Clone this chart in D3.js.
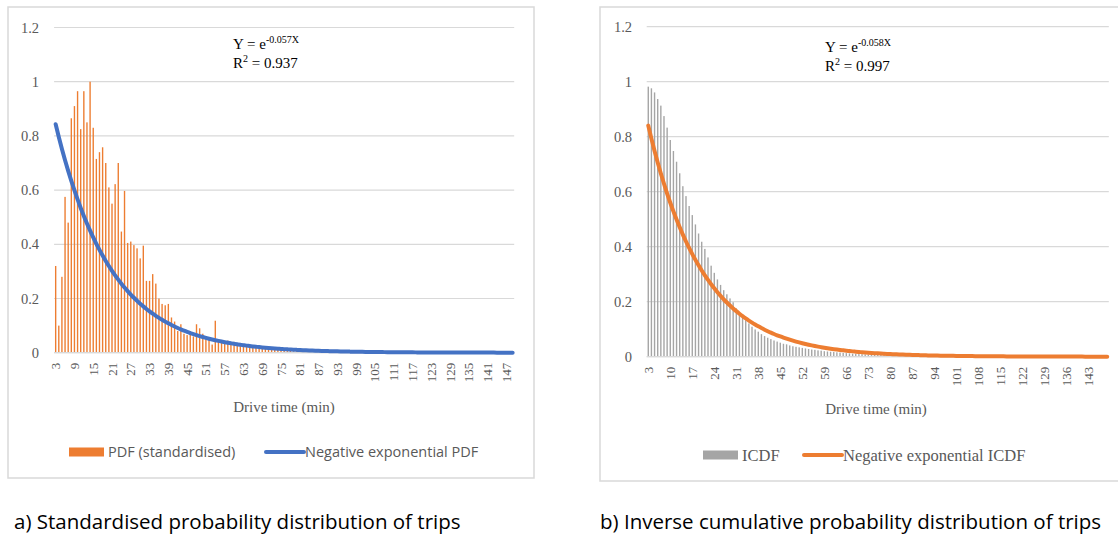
<!DOCTYPE html>
<html>
<head>
<meta charset="utf-8">
<script src="https://cdn.jsdelivr.net/npm/d3@7"></script>
<style>
  html, body { margin: 0; padding: 0; background: #ffffff; }
  svg { display: block; }
</style>
</head>
<body>
<svg id="chart" width="1118" height="536"></svg>
<script>
// Drive time categories (minutes) shared by both panels
const driveTimes = d3.range(3, 150);

// a) Standardised PDF of trips, one value per minute (3..149)
const pdfValues = [
  0.32, 0.10, 0.28, 0.575, 0.48, 0.865, 0.91, 0.965, 0.825, 0.965,
  0.85, 1.0, 0.83, 0.715, 0.74, 0.758, 0.70, 0.61, 0.55, 0.622,
  0.70, 0.447, 0.597, 0.405, 0.41, 0.397, 0.385, 0.348, 0.395, 0.265,
  0.265, 0.29, 0.255, 0.20, 0.18, 0.175, 0.18, 0.13, 0.115, 0.08,
  0.105, 0.07, 0.065, 0.08, 0.06, 0.105, 0.09, 0.07, 0.06, 0.055,
  0.03, 0.118, 0.05, 0.045, 0.04, 0.045, 0.035, 0.04, 0.03, 0.032,
  0.025, 0.028, 0.022, 0.024, 0.018, 0.02, 0.015, 0.017, 0.012, 0.014,
  0.01, 0.012, 0.008, 0.009, 0.006, 0.007, 0.005, 0.006, 0.004, 0.005,
  0.003, 0.004, 0.003, 0.003, 0.002, 0.003, 0.002, 0.002,
  0.002, 0.001, 0.002, 0.001, 0.001, 0.002, 0.001, 0.001, 0.001, 0.001,
  0.001, 0.001, 0.0005, 0.001, 0.0005, 0.001, 0.0005, 0.0005, 0.001, 0.0005,
  0.0005, 0.0005, 0.0005, 0.001, 0.0005, 0, 0.0005, 0.0005, 0, 0.0005,
  0, 0.0005, 0, 0, 0.0005, 0, 0, 0.0005, 0, 0,
  0, 0.0005, 0, 0, 0, 0, 0.0005, 0, 0, 0,
  0, 0, 0, 0, 0, 0, 0, 0, 0
];

// b) Inverse cumulative distribution of trips (3..149)
const icdfValues = [
  0.982, 0.976, 0.961, 0.937, 0.913, 0.875, 0.833, 0.788, 0.748, 0.709,
  0.667, 0.62, 0.584, 0.548, 0.515, 0.481, 0.448, 0.418, 0.392, 0.361,
  0.331, 0.305, 0.281, 0.261, 0.242, 0.227, 0.212, 0.198, 0.176, 0.16,
  0.145, 0.133, 0.121, 0.109, 0.099, 0.091, 0.082, 0.075, 0.069, 0.064,
  0.059, 0.055, 0.051, 0.047, 0.045, 0.041,
  0.038, 0.036, 0.034, 0.032, 0.030, 0.028, 0.026, 0.025, 0.023, 0.022,
  0.020, 0.019, 0.018, 0.017, 0.016, 0.015, 0.014, 0.013, 0.012, 0.011,
  0.010, 0.0095, 0.009, 0.0085, 0.008, 0.0075, 0.007, 0.0065, 0.006, 0.0055,
  0.005, 0.0048, 0.0045, 0.0042, 0.004, 0.0037, 0.0035, 0.0033, 0.003, 0.0028,
  0.0026, 0.0025, 0.0023, 0.0022, 0.002, 0.0019, 0.0018, 0.0017, 0.0016, 0.0015,
  0.0014, 0.0013, 0.0012, 0.0012, 0.0011, 0.001, 0.001, 0.0009, 0.0009, 0.0008,
  0.0008, 0.0007, 0.0007, 0.0006, 0.0006, 0.0006, 0.0005, 0.0005, 0.0005, 0.0004,
  0.0004, 0.0004, 0.0004, 0.0003, 0.0003, 0.0003, 0.0003, 0.0003, 0.0002, 0.0002,
  0.0002, 0.0002, 0.0002, 0.0002, 0.0002, 0.0001, 0.0001, 0.0001, 0.0001, 0.0001,
  0.0001, 0.0001, 0.0001, 0.0001, 0.0001, 0.0001, 0.0001, 0.0001, 0.0001, 0.0001, 0
];

// Fitted decay rates printed in each panel (Y = e^(rate * X))
const pdfRate = -0.057;
const icdfRate = -0.058;
const pdfR2 = "0.937";
const icdfR2 = "0.997";

const yTicks = [0, 0.2, 0.4, 0.6, 0.8, 1, 1.2];

const svg = d3.select("#chart");
const tickFont = "'Liberation Serif', 'Times New Roman', serif";
const sansFont = "'Open Sans', 'Noto Sans', sans-serif";
const textGrey = "#595959";

function panel(opt) {
  const g = svg.append("g");

  // chart frame
  g.append("rect")
    .attr("x", opt.frame[0]).attr("y", opt.frame[1])
    .attr("width", opt.frame[2]).attr("height", opt.frame[3])
    .attr("fill", "#fff").attr("stroke", "#d9d9d9").attr("stroke-width", 1.5);

  const x = d3.scaleBand()
    .domain(driveTimes)
    .range(opt.xRange)
    .paddingInner(0.56)
    .paddingOuter(0.28);

  const y = d3.scaleLinear().domain([0, 1.2]).range(opt.yRange);

  // horizontal gridlines
  g.append("g").selectAll("line").data(yTicks).join("line")
    .attr("x1", opt.xRange[0]).attr("x2", opt.xRange[1])
    .attr("y1", d => y(d)).attr("y2", d => y(d))
    .attr("stroke", "#d9d9d9").attr("stroke-width", 1.2);

  // y axis labels
  const yAxis = d3.axisLeft(y).tickValues(yTicks).tickSize(0).tickPadding(0)
    .tickFormat(d3.format("~g"));
  g.append("g")
    .attr("transform", `translate(${opt.yLabelX},0)`)
    .call(yAxis)
    .call(s => s.select(".domain").remove())
    .call(s => s.selectAll("text")
      .attr("font-family", tickFont).attr("font-size", 14.5).attr("fill", textGrey));

  // bars
  g.append("g").selectAll("rect").data(opt.values).join("rect")
    .attr("x", (d, i) => x(driveTimes[i]))
    .attr("width", x.bandwidth())
    .attr("y", d => y(d))
    .attr("height", d => y(0) - y(d))
    .attr("fill", opt.barColor);

  // baseline
  g.append("line")
    .attr("x1", opt.xRange[0]).attr("x2", opt.xRange[1])
    .attr("y1", y(0)).attr("y2", y(0))
    .attr("stroke", "#d9d9d9").attr("stroke-width", 1.2);

  // fitted negative exponential curve
  const line = d3.line()
    .x(d => x(d) + x.bandwidth() / 2)
    .y(d => y(Math.exp(opt.rate * d)))
    .curve(d3.curveMonotoneX);
  g.append("path").datum(driveTimes)
    .attr("d", line)
    .attr("fill", "none")
    .attr("stroke", opt.lineColor)
    .attr("stroke-width", 4)
    .attr("stroke-linecap", "round");

  // x axis labels (rotated)
  const xAxis = d3.axisBottom(x)
    .tickValues(driveTimes.filter((d, i) => i % opt.labelStep === 0))
    .tickSize(0).tickPadding(0);
  g.append("g")
    .attr("transform", `translate(0,${y(0) + 10})`)
    .call(xAxis)
    .call(s => s.select(".domain").remove())
    .call(s => s.selectAll("text")
      .attr("font-family", tickFont).attr("font-size", 13).attr("fill", textGrey)
      .attr("text-anchor", "end")
      .attr("dy", "0.35em").attr("y", 0)
      .attr("transform", "rotate(-90)"));

  // axis title
  g.append("text")
    .attr("x", opt.titleX).attr("y", opt.titleY)
    .attr("text-anchor", "middle")
    .attr("font-family", tickFont).attr("font-size", 15).attr("fill", textGrey)
    .text("Drive time (min)");

  // equation and R²
  const eq = g.append("text")
    .attr("x", opt.eqX).attr("y", opt.eqY)
    .attr("font-family", tickFont).attr("font-size", 15).attr("fill", "#000");
  eq.append("tspan").text("Y = e");
  eq.append("tspan").attr("font-size", 10).attr("dy", -6).text(opt.rate.toFixed(3) + "X");
  const r2 = g.append("text")
    .attr("x", opt.eqX).attr("y", opt.eqY + 19)
    .attr("font-family", tickFont).attr("font-size", 15).attr("fill", "#000");
  r2.append("tspan").text("R");
  r2.append("tspan").attr("font-size", 10).attr("dy", -6).text("2");
  r2.append("tspan").attr("dy", 6).text(" = " + opt.r2);

  // legend
  const lg = g.append("g");
  lg.append("rect")
    .attr("x", opt.legend.x).attr("y", opt.legend.y - 4.5)
    .attr("width", 35).attr("height", 9).attr("fill", opt.barColor);
  lg.append("text")
    .attr("x", opt.legend.x + 39).attr("y", opt.legend.y)
    .attr("dy", "0.35em")
    .attr("font-family", opt.legend.font).attr("font-size", opt.legend.size)
    .attr("fill", textGrey).text(opt.legend.bar);
  lg.append("line")
    .attr("x1", opt.legend.lx).attr("x2", opt.legend.lx + 38)
    .attr("y1", opt.legend.y).attr("y2", opt.legend.y)
    .attr("stroke", opt.lineColor).attr("stroke-width", 4).attr("stroke-linecap", "round");
  lg.append("text")
    .attr("x", opt.legend.lx + 39).attr("y", opt.legend.y)
    .attr("dy", "0.35em")
    .attr("font-family", opt.legend.font).attr("font-size", opt.legend.size)
    .attr("fill", textGrey).text(opt.legend.line);

  // caption under the panel
  svg.append("text")
    .attr("x", opt.caption.x).attr("y", 529)
    .attr("font-family", sansFont).attr("font-size", 20.5).attr("fill", "#000")
    .text(opt.caption.text);
}

panel({
  frame: [8, 7, 526, 471],
  xRange: [54.1, 514.2],
  yRange: [352.7, 27.5],
  yLabelX: 39,
  values: pdfValues,
  barColor: "#ED7D31",
  lineColor: "#4472C4",
  rate: pdfRate,
  r2: pdfR2,
  labelStep: 6,
  titleX: 284, titleY: 412,
  eqX: 233, eqY: 49,
  legend: { x: 69, lx: 266, y: 452, font: sansFont, size: 14.5,
            bar: "PDF (standardised)", line: "Negative exponential PDF" },
  caption: { x: 14, text: "a) Standardised probability distribution of trips" }
});

panel({
  frame: [600, 7, 530, 474],
  xRange: [646.7, 1108.8],
  yRange: [356.7, 26.7],
  yLabelX: 632,
  values: icdfValues,
  barColor: "#A5A5A5",
  lineColor: "#ED7D31",
  rate: icdfRate,
  r2: icdfR2,
  labelStep: 7,
  titleX: 876, titleY: 414,
  eqX: 825, eqY: 52,
  legend: { x: 703, lx: 804, y: 455, font: tickFont, size: 16.5,
            bar: "ICDF", line: "Negative exponential ICDF" },
  caption: { x: 600, text: "b) Inverse cumulative probability distribution of trips" }
});
</script>
</body>
</html>
